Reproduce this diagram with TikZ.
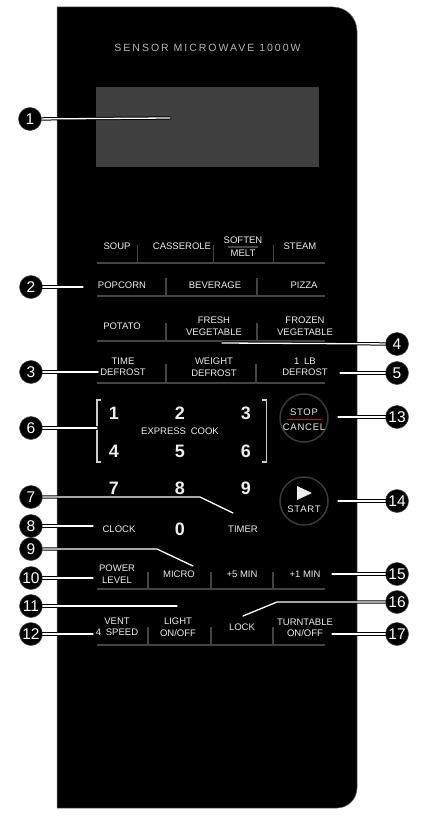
\documentclass[tikz,border=0pt]{standalone}
\usepackage{fontspec}
\setmainfont{Liberation Sans}
\newfontfamily\ttlfont[LetterSpace=19]{Liberation Sans}
\newfontfamily\ringfont[LetterSpace=8]{Liberation Sans}
\usetikzlibrary{positioning,calc}
\definecolor{screengray}{HTML}{404040}
\definecolor{sepgray}{HTML}{444444}
\definecolor{btntext}{HTML}{EDEDED}
\definecolor{ttlgray}{HTML}{B4B4B4}
\definecolor{ringgray}{HTML}{3A3A3A}
\definecolor{stopred}{HTML}{C41A1A}
\tikzset{
  panel/.style={fill=black,draw=black!55,line width=0.5pt},
  screen/.style={fill=screengray,minimum width=223pt,minimum height=80pt,inner sep=0pt},
  ttl/.style={text=ttlgray,font=\ttlfont\fontsize{10.5}{12}\selectfont,inner sep=0pt},
  btn/.style={text=btntext,font=\fontsize{9.5}{11.5}\selectfont,align=center,inner sep=0pt},
  digit/.style={text=btntext,font=\fontsize{18}{20}\selectfont\bfseries,inner sep=0pt},
  sep/.style={draw=sepgray,line width=1.4pt},
  brkt/.style={draw=black!20,line width=1.1pt},
  ring/.style={circle,draw=ringgray,line width=1.5pt,minimum size=48pt,inner sep=0pt},
  ringtxt/.style={text=btntext,font=\ringfont\fontsize{9.5}{11}\selectfont,inner sep=0pt},
  callout/.style={circle,fill=black,draw=black!70,line width=0.5pt,minimum size=23pt,
    inner sep=0pt,text=white,font=\fontsize{15.5}{15.5}\selectfont},
  lead/.style={draw=black,line width=1pt,double=white,double distance=1.3pt,
    line cap=round,line join=round},
}
\begin{document}
\begin{tikzpicture}[x=1pt,y=-1pt]
  \useasboundingbox (0,0) rectangle (424,818);
  % control panel
  \fill[panel] (57,7) -- (333,7) arc[start angle=-90,end angle=0,radius=24]
    -- (357,788) arc[start angle=0,end angle=90,radius=20] -- (57,808) -- cycle;
  \node[ttl] (title) at (207.5,48) {SENSOR MICROWAVE 1000W};
  \node[screen] (disp) at (207.5,127) {};

  % separators under the button rows
  \foreach \y in {263,296,341,383,589,645}{\draw[sep] (97,\y)--(325,\y);}
  \foreach \x in {137.7,213.3,273.3}{\draw[sep] (\x,245)--(\x,263);}
  \draw[sep] (228,247)--(258,247);
  \foreach \x/\a/\b in {166/278/296,257/278/296,166/323/341,257/323/341,166/364/383,256/364/383}
    {\draw[sep] (\x,\a)--(\x,\b);}
  \foreach \x in {148,211,273}{\draw[sep] (\x,572)--(\x,589); \draw[sep] (\x,627)--(\x,645);}

  % cooking buttons
  \node[btn] (soup) at (117,246) {SOUP};
  \node[btn] (cass) at (182,246) {CASSEROLE};
  \node[btn] (soft) at (243,240) {SOFTEN};
  \node[btn] (melt) at (243,253) {MELT};
  \node[btn] (steam) at (300,246) {STEAM};
  \node[btn] (pop) at (122,285) {POPCORN};
  \node[btn] (bev) at (215,285) {BEVERAGE};
  \node[btn] (pizza) at (304,285) {PIZZA};
  \node[btn] (pot) at (122,326) {POTATO};
  \node[btn] (fresh) at (214,326) {FRESH\\VEGETABLE};
  \node[btn] (froz) at (305,326) {FROZEN\\VEGETABLE};
  \node[btn] (tdef) at (123,367) {TIME\\DEFROST};
  \node[btn] (wdef) at (214,367) {WEIGHT\\DEFROST};
  \node[btn] (lbdef) at (305,367) {1\enspace LB\\DEFROST};

  % number pad
  \draw[brkt] (101,400) -- (97,400) -- (97,462) -- (101,462);
  \draw[brkt] (262,400) -- (266.5,400) -- (266.5,462) -- (262,462);
  \node[digit] (k1) at (114,413) {1};
  \node[digit] (k2) at (180,413) {2};
  \node[digit] (k3) at (246,413) {3};
  \node[btn] (expr) at (180,431) {EXPRESS\enspace COOK};
  \node[digit] (k4) at (114,451) {4};
  \node[digit] (k5) at (180,451) {5};
  \node[digit] (k6) at (246,451) {6};
  \node[digit] (k7) at (114,488) {7};
  \node[digit] (k8) at (180,488) {8};
  \node[digit] (k9) at (246,488) {9};
  \node[btn] (clock) at (119,529) {CLOCK};
  \node[digit] (k0) at (180,529) {0};
  \node[btn] (timer) at (243,529) {TIMER};

  % stop / start
  \node[ring] (stop) at (304,418) {};
  \node[ringtxt] (stoptxt) at (304,412) {STOP};
  \node[ringtxt] (canctxt) at (304,427) {CANCEL};
  \draw[stopred,line width=0.9pt] (287,419.5) -- (321,419.5);
  \node[ring] (start) at (304,501) {};
  \fill[btntext] (297,486) -- (312,493) -- (297,500) -- cycle;
  \node[ringtxt] (starttxt) at (304,509) {START};

  % lower buttons
  \node[btn] (power) at (117,574) {POWER\\LEVEL};
  \node[btn] (micro) at (179,574) {MICRO};
  \node[btn] (min5) at (242,574) {+5 MIN};
  \node[btn] (min1) at (305,574) {+1 MIN};
  \node[btn] (vent) at (117,627) {VENT\\4\enspace SPEED};
  \node[btn] (light) at (178,627) {LIGHT\\ON/OFF};
  \node[btn] (lock) at (242,627) {LOCK};
  \node[btn] (turn) at (305,628) {TURNTABLE\\ON/OFF};

  % leader ends
  \coordinate (e1) at (170,118);
  \coordinate (e2) at (83,287);
  \coordinate (e3) at (98,372);
  \coordinate (e4) at (222,343);
  \coordinate (e5) at (340,373);
  \coordinate (e6) at (97,428);
  \coordinate (b7) at (200,497);
  \coordinate (e7) at (233,513);
  \coordinate (e8) at (93,526);
  \coordinate (b9) at (157,549);
  \coordinate (e9) at (193,566);
  \coordinate (e10) at (93,578);
  \coordinate (e11) at (177,606);
  \coordinate (e12) at (93,634);
  \coordinate (e13) at (338,417);
  \coordinate (e14) at (338,501);
  \coordinate (e15) at (332,574);
  \coordinate (b16) at (277,602);
  \coordinate (e16) at (243,616);
  \coordinate (e17) at (332,634);

  % callouts
  \node[callout] (c1) at (30,119) {1};
  \node[callout] (c2) at (31,287) {2};
  \node[callout] (c3) at (31,372) {3};
  \node[callout] (c4) at (397,344) {4};
  \node[callout] (c5) at (397,373) {5};
  \node[callout] (c6) at (31,428) {6};
  \node[callout] (c7) at (31,497) {7};
  \node[callout] (c8) at (31,526) {8};
  \node[callout] (c9) at (31,549) {9};
  \node[callout] (c10) at (31,578) {10};
  \node[callout] (c11) at (31,606) {11};
  \node[callout] (c12) at (31,634) {12};
  \node[callout] (c13) at (397,417) {13};
  \node[callout] (c14) at (397,501) {14};
  \node[callout] (c15) at (397,574) {15};
  \node[callout] (c16) at (397,602) {16};
  \node[callout] (c17) at (397,634) {17};
  \foreach \n in {1,2,3,4,5,6,8,10,11,12,13,14,15,17}{\draw[lead] (c\n) -- (e\n);}
  \draw[lead] (c7) -- (b7) -- (e7);
  \draw[lead] (c9) -- (b9) -- (e9);
  \draw[lead] (c16) -- (b16) -- (e16);
\end{tikzpicture}
\end{document}
